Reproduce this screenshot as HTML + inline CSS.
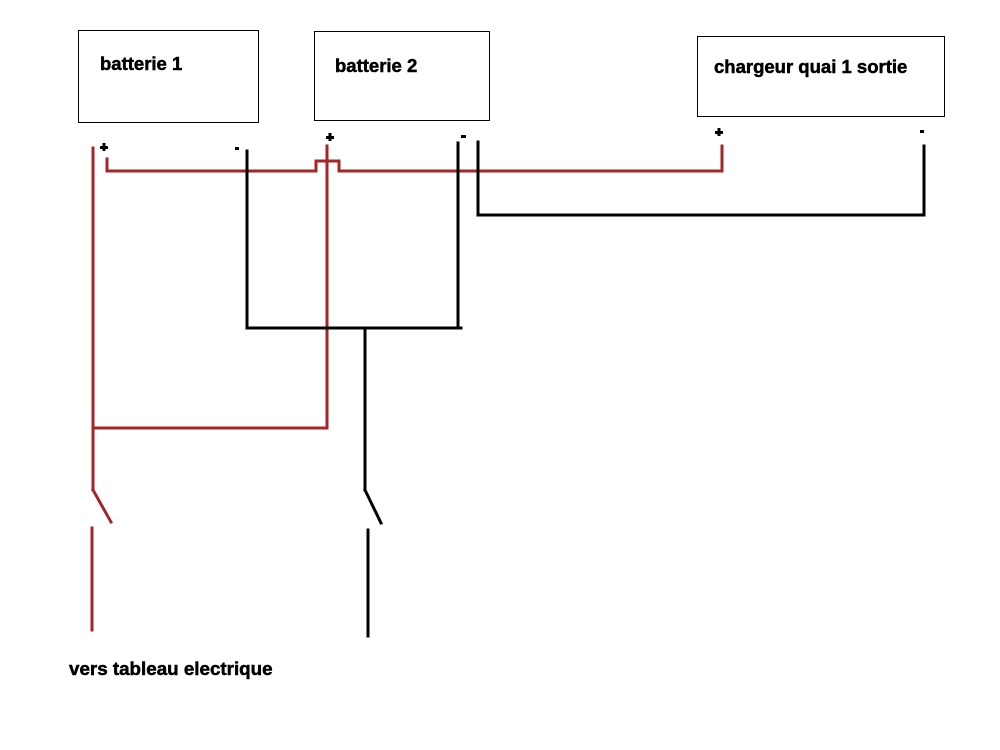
<!DOCTYPE html>
<html>
<head>
<meta charset="utf-8">
<style>
html,body{margin:0;padding:0;background:#fff;}
svg{display:block;}
text{font-family:"Liberation Sans",Arial,sans-serif;font-weight:bold;fill:#000;stroke:#000;stroke-width:0.5px;}
</style>
</head>
<body>
<svg width="1000" height="750" viewBox="0 0 1000 750" xmlns="http://www.w3.org/2000/svg">
<rect x="0" y="0" width="1000" height="750" fill="#fff"/>
<!-- boxes -->
<rect x="78.5" y="30.5" width="180" height="92" fill="none" stroke="#000" stroke-width="1"/>
<rect x="314.5" y="31.5" width="175" height="89" fill="none" stroke="#000" stroke-width="1"/>
<rect x="697.5" y="36.5" width="247" height="80" fill="none" stroke="#000" stroke-width="1"/>
<text x="100" y="70" font-size="18.5">batterie 1</text>
<text x="335" y="72" font-size="18.5">batterie 2</text>
<text x="714" y="73" font-size="18.5">chargeur quai 1 sortie</text>
<text x="69" y="675" font-size="18.8">vers tableau electrique</text>

<!-- terminal signs -->
<g fill="#000">
  <rect x="100" y="146" width="8" height="3"/><rect x="102.5" y="143" width="3" height="8"/>
  <rect x="326" y="136" width="8" height="3"/><rect x="328.5" y="133" width="3" height="8"/>
  <rect x="715" y="131" width="8" height="3"/><rect x="717.5" y="128" width="3" height="8"/>
  <rect x="235" y="147" width="4" height="3"/>
  <rect x="461" y="135" width="5" height="3"/>
  <rect x="920" y="130" width="4" height="3"/>
</g>

<g fill="none" stroke="#a52528" stroke-width="3" stroke-linecap="square" stroke-linejoin="miter">
  <!-- left red main -->
  <line x1="93" y1="148" x2="93" y2="490"/>
  <line x1="93" y1="490" x2="111" y2="522"/>
  <line x1="92" y1="528" x2="92" y2="630"/>
  <!-- stub and top red horizontal with hump -->
  <polyline points="107,159 107,171 316,171 316,161 339,161 339,171 722,171 722,146"/>
  <!-- red vertical from battery 2 + -->
  <polyline points="327,146 327,428 93,428"/>
</g>

<g fill="none" stroke="#000" stroke-width="3" stroke-linecap="square">
  <!-- battery 1 minus -->
  <polyline points="247,151 247,328 461,328"/>
  <!-- battery 2 minus -->
  <line x1="458" y1="143" x2="458" y2="328"/>
  <!-- second wire to charger minus -->
  <polyline points="478,142 478,215 924,215 924,146"/>
  <!-- center down -->
  <line x1="365" y1="329" x2="365" y2="490"/>
  <line x1="365" y1="490" x2="381" y2="523"/>
  <line x1="368" y1="530" x2="368" y2="636"/>
</g>
</svg>
</body>
</html>
